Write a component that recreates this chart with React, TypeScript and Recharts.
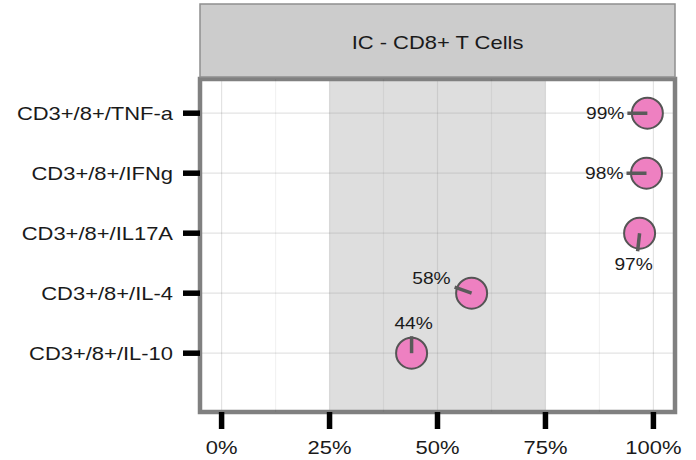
import React from 'react';
import {
  ScatterChart,
  Scatter,
  XAxis,
  YAxis,
  CartesianGrid,
  ReferenceArea,
  ReferenceLine,
} from 'recharts';

// ---- data ----
const categories = [
  'CD3+/8+/IL-10',
  'CD3+/8+/IL-4',
  'CD3+/8+/IL17A',
  'CD3+/8+/IFNg',
  'CD3+/8+/TNF-a',
];
const percentValues = [44.0, 57.9, 96.8, 98.4, 98.6];
const pointLabels = ['44%', '58%', '97%', '98%', '99%'];
const xTicks = [0, 25, 50, 75, 100];
const minorXLines = [12.5, 37.5, 62.5, 87.5];
const shadedRange = [25, 75];
const facetTitle = 'IC - CD8+ T Cells';

// ---- label placement (styling: pixel offsets of repelled labels from the point) ----
// tx,ty: text anchor offset; anchor; sx,sy: segment start offset
const labelPlacement = [
  { tx: 2, ty: -24, anchor: 'middle', sx: 0, sy: -17 },
  { tx: -21, ty: -9, anchor: 'end', sx: -17, sy: -6 },
  { tx: -6, ty: 37, anchor: 'middle', sx: -2, sy: 18 },
  { tx: -23, ty: 6, anchor: 'end', sx: -20, sy: 0 },
  { tx: -23, ty: 6, anchor: 'end', sx: -20, sy: 0 },
];

const tableData = categories.map((c, i) => ({
  cat: i + 1,
  value: percentValues[i],
  label: pointLabels[i],
  place: labelPlacement[i],
}));

const FONT = '"Liberation Sans", Arial, Helvetica, sans-serif';
const TEXT = '#1a1a1a';
const SX = 1.22;

const W = 696;
const H = 460;
const PLOT_LEFT = 200;
const PLOT_RIGHT = 675;
const PLOT_TOP = 79;
const PLOT_BOTTOM = 412;

const YTick = (props: any) => {
  const { x, y, payload } = props;
  return (
    <text
      transform={`translate(${x},${y + 6.5}) scale(${SX},1)`}
      textAnchor="end"
      fontFamily={FONT}
      fontSize={18}
      fill={TEXT}
    >
      {categories[Math.round(payload.value) - 1]}
    </text>
  );
};

const XTick = (props: any) => {
  const { x, y, payload } = props;
  return (
    <text
      transform={`translate(${x},${y + 23}) scale(${SX},1)`}
      textAnchor="middle"
      fontFamily={FONT}
      fontSize={18}
      fill={TEXT}
    >
      {`${payload.value}%`}
    </text>
  );
};

const PointShape = (props: any) => {
  const { cx, cy, payload } = props;
  if (cx == null || cy == null) return null;
  const p = payload.place;
  return (
    <g>
      <circle cx={cx} cy={cy} r={15.5} fill="#ee80c1" stroke="#555555" strokeWidth={2} />
      <line x1={cx + p.sx} y1={cy + p.sy} x2={cx} y2={cy} stroke="#5a5a5a" strokeWidth={3.5} />
      <text
        transform={`translate(${cx + p.tx},${cy + p.ty}) scale(1.2,1)`}
        textAnchor={p.anchor}
        fontFamily={FONT}
        fontSize={16}
        fill={TEXT}
      >
        {payload.label}
      </text>
    </g>
  );
};

export default function App() {
  return (
    <div style={{ position: 'absolute', left: 0, top: 0, width: W, height: H, background: '#fff' }}>
      <ScatterChart
        width={W}
        height={H}
        margin={{ top: PLOT_TOP, right: W - PLOT_RIGHT, bottom: 8, left: 0 }}
      >
        <ReferenceArea
          x1={shadedRange[0]}
          x2={shadedRange[1]}
          y1={0.02}
          y2={5.57}
          fill="#9a9a9a"
          fillOpacity={0.33}
          stroke="none"
        />
        <CartesianGrid stroke="#000" strokeOpacity={0.11} strokeWidth={1.2} />
        {minorXLines.map((v) => (
          <ReferenceLine key={v} x={v} stroke="#000" strokeOpacity={0.05} strokeWidth={1.2} />
        ))}
        <XAxis
          type="number"
          dataKey="value"
          domain={[-5, 105]}
          ticks={xTicks}
          height={H - PLOT_BOTTOM - 8}
          axisLine={false}
          tickLine={{ stroke: '#000', strokeWidth: 5.5 }}
          tickSize={17}
          tickMargin={2}
          tick={<XTick />}
          interval={0}
        />
        <YAxis
          type="number"
          dataKey="cat"
          domain={[0.02, 5.57]}
          ticks={[1, 2, 3, 4, 5]}
          width={PLOT_LEFT}
          axisLine={false}
          tickLine={{ stroke: '#000', strokeWidth: 5.5 }}
          tickSize={17}
          tickMargin={10}
          tick={<YTick />}
          interval={0}
          allowDataOverflow
        />
        <Scatter data={tableData} shape={<PointShape />} isAnimationActive={false} />
        <ReferenceArea
          x1={-5}
          x2={105}
          y1={0.02}
          y2={5.57}
          fill="none"
          stroke="#808080"
          strokeWidth={4.5}
        />
      </ScatterChart>
      <svg
        width={W}
        height={PLOT_TOP}
        style={{ position: 'absolute', left: 0, top: 0 }}
      >
        <rect
          x={PLOT_LEFT}
          y={4}
          width={PLOT_RIGHT - PLOT_LEFT}
          height={PLOT_TOP - 6}
          fill="#cccccc"
          stroke="#8f8f8f"
          strokeWidth={1.5}
        />
        <text
          transform={`translate(${(PLOT_LEFT + PLOT_RIGHT) / 2},${48.5}) scale(${SX},1)`}
          textAnchor="middle"
          fontFamily={FONT}
          fontSize={18}
          fill={TEXT}
        >
          {facetTitle}
        </text>
      </svg>
    </div>
  );
}
